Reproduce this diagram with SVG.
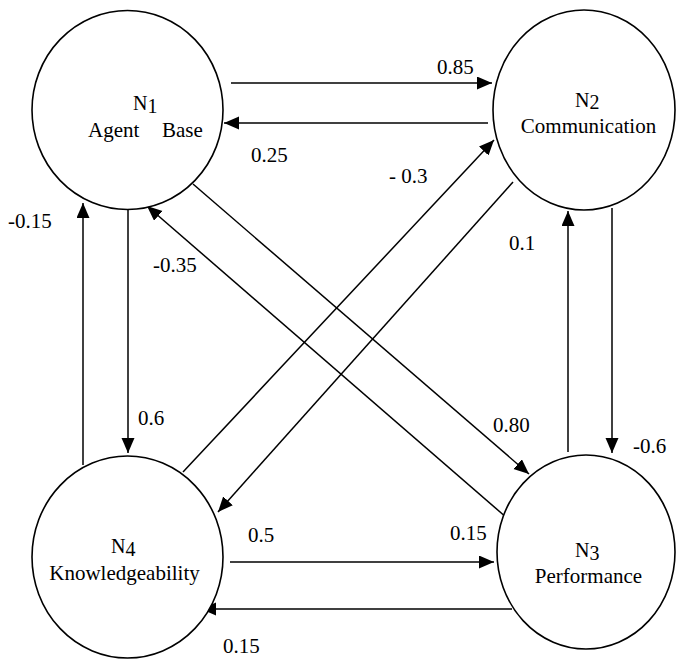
<svg xmlns="http://www.w3.org/2000/svg" width="676" height="661" viewBox="0 0 676 661">
<style>
.node{fill:#fff;stroke:#000;stroke-width:1.6}
.t{font-family:"Liberation Serif","Times New Roman",serif;font-size:21px;fill:#000}
.n{font-size:20px}
.c{stroke:#000;stroke-width:1.5;fill:none;marker-end:url(#ah)}
.m{text-anchor:middle}
</style>
<defs>
<marker id="ah" markerUnits="userSpaceOnUse" markerWidth="16" markerHeight="14" refX="15" refY="6.5" orient="auto">
<path d="M0,0 L15,6.5 L0,13 z" fill="#000"/>
</marker>
</defs>
<rect width="676" height="661" fill="#fff"/>
<g id="connectors">
<line class="c" x1="231" y1="83" x2="492" y2="83"/>
<line class="c" x1="488" y1="123" x2="224" y2="123"/>
<line class="c" x1="183" y1="472" x2="494" y2="140"/>
<line class="c" x1="513" y1="182" x2="218" y2="512"/>
<line class="c" x1="193" y1="184" x2="529" y2="474"/>
<line class="c" x1="507" y1="518" x2="147" y2="206"/>
<line class="c" x1="128" y1="208" x2="128" y2="453"/>
<line class="c" x1="83" y1="465" x2="83" y2="203"/>
<line class="c" x1="230" y1="562" x2="494" y2="562"/>
<line class="c" x1="512" y1="609" x2="201" y2="609"/>
<line class="c" x1="568" y1="452" x2="568" y2="211"/>
<line class="c" x1="612" y1="208" x2="612" y2="453"/>
</g>
<g id="labels">
<text class="t" x="437" y="74">0.85</text>
<text class="t" x="251" y="162">0.25</text>
<text class="t" x="389" y="183">- 0.3</text>
<text class="t" x="493" y="432">0.80</text>
<text class="t" x="153" y="272">-0.35</text>
<text class="t" x="138" y="425">0.6</text>
<text class="t" x="8" y="228">-0.15</text>
<text class="t" x="248" y="542">0.5</text>
<text class="t" x="450" y="540">0.15</text>
<text class="t" x="223" y="653">0.15</text>
<text class="t" x="509" y="250">0.1</text>
<text class="t" x="633" y="453">-0.6</text>
</g>
<g id="N1">
<ellipse class="node" cx="127.5" cy="110" rx="95.5" ry="99.5"/>
<text class="t n" x="133" y="110">N<tspan dy="3">1</tspan></text>
<text class="t" x="88" y="137">Agent</text>
<text class="t" x="162" y="137">Base</text>
</g>
<g id="N2">
<ellipse class="node" cx="584" cy="110" rx="91" ry="100"/>
<text class="t n" x="575" y="107">N<tspan dy="2">2</tspan></text>
<text class="t m" x="588.5" y="133">Communication</text>
</g>
<g id="N3">
<ellipse class="node" cx="586" cy="552" rx="89" ry="97"/>
<text class="t n" x="575" y="557">N<tspan dy="3">3</tspan></text>
<text class="t m" x="588.5" y="583">Performance</text>
</g>
<g id="N4">
<ellipse class="node" cx="127.5" cy="557" rx="95.5" ry="101"/>
<text class="t n" x="111" y="553">N<tspan dy="3">4</tspan></text>
<text class="t m" x="124.5" y="580">Knowledgeability</text>
</g>
</svg>
